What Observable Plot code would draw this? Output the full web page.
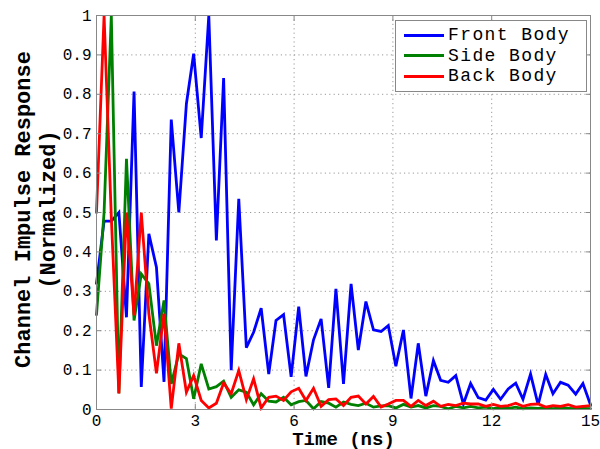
<!DOCTYPE html>
<html><head><meta charset="utf-8">
<script src="https://cdn.jsdelivr.net/npm/d3@7"></script>
<script src="https://cdn.jsdelivr.net/npm/@observablehq/plot@0.6"></script>
<style>
body{margin:0;background:#fff;}
#wrap{position:relative;width:600px;height:449px;}
#legend{position:absolute;left:395px;top:20px;width:192px;height:72px;border:1px solid #888;background:#fff;box-sizing:border-box;font-family:"Liberation Mono",monospace;font-size:18px;letter-spacing:1.4px;line-height:20px;color:#000;padding-top:4px;}
#legend .row{display:flex;align-items:center;height:20.5px;}
#legend .sw{width:40px;height:3px;margin-left:8px;margin-right:4px;}
#legend .lab{display:inline-block;height:20px;line-height:20px;}
</style>
</head><body><div id="wrap"><div id="chart"></div><div id="legend"></div></div>
<script>
const time = [0,0.23,0.45,0.68,0.91,1.14,1.36,1.59,1.82,2.05,2.27,2.5,2.73,2.95,3.18,3.41,3.64,3.86,4.09,4.32,4.55,4.77,5,5.23,5.45,5.68,5.91,6.14,6.36,6.59,6.82,7.05,7.27,7.5,7.73,7.95,8.18,8.41,8.64,8.86,9.09,9.32,9.55,9.77,10,10.23,10.45,10.68,10.91,11.14,11.36,11.59,11.82,12.05,12.27,12.5,12.73,12.95,13.18,13.41,13.64,13.86,14.09,14.32,14.55,14.77,15];
const frontBody = [0.32,0.478,0.478,0.50,0.234,0.807,0.057,0.446,0.361,0.07,0.736,0.50,0.776,0.903,0.689,1.0,0.429,0.841,0.10,0.535,0.157,0.196,0.257,0.09,0.226,0.241,0.083,0.261,0.084,0.177,0.23,0.055,0.306,0.065,0.319,0.151,0.274,0.202,0.198,0.213,0.11,0.202,0.028,0.168,0.034,0.124,0.074,0.069,0.086,0.014,0.066,0.03,0.024,0.051,0.026,0.052,0.067,0.026,0.09,0.012,0.089,0.04,0.069,0.062,0.039,0.066,0.012];
const sideBody = [0.241,0.5,1.0,0.041,0.636,0.226,0.344,0.319,0.162,0.277,0.065,0.141,0.129,0.027,0.116,0.052,0.058,0.072,0.031,0.05,0.044,0.012,0.04,0.021,0.019,0.031,0.012,0.02,0.023,0.002,0.02,0.016,0.006,0.019,0.013,0.01,0.016,0.006,0.009,0.01,0.004,0.013,0.006,0.01,0.004,0.01,0.008,0.002,0.008,0.004,0.008,0.004,0.006,0.002,0.005,0.003,0.006,0.002,0.004,0.003,0.005,0.002,0.004,0.003,0.002,0.003,0.002];
const backBody = [0.50,1.0,0.488,0.041,0.50,0.239,0.50,0.243,0.092,0.243,0.002,0.168,0.044,0.086,0.023,0.004,0.016,0.067,0.04,0.099,0.025,0.078,0.004,0.031,0.034,0.023,0.045,0.054,0.023,0.054,0.008,0.025,0.027,0.01,0.031,0.034,0.014,0.033,0.006,0.014,0.023,0.023,0.008,0.023,0.01,0.021,0.008,0.013,0.01,0.016,0.014,0.014,0.008,0.013,0.008,0.01,0.016,0.008,0.013,0.014,0.006,0.01,0.008,0.012,0.006,0.008,0.01];
const seriesNames = ["Front Body","Side Body","Back Body"];
const seriesColors = ["#0000ff","#008000","#ff0000"];
const xTicks = [0,3,6,9,12,15];
const yTicks = [0,0.1,0.2,0.3,0.4,0.5,0.6,0.7,0.8,0.9,1];
const yTickLabels = ["0","0.1","0.2","0.3","0.4","0.5","0.6","0.7","0.8","0.9","1"];
const xTitle = "Time (ns)";
const yTitle = "Channel Impulse Response\n(Normalized)";

const seriesValues = [frontBody, sideBody, backBody];
const data = seriesNames.flatMap((name, s) => time.map((t, i) => ({series: name, time: t, value: seriesValues[s][i]})));
const font = "Liberation Mono, Courier New, monospace";

const chart = Plot.plot({
  width: 600, height: 449,
  marginLeft: 96, marginRight: 10, marginTop: 15, marginBottom: 40,
  style: {fontFamily: font, background: "#fff", color: "#000"},
  x: {domain: [0, 15]},
  y: {domain: [0, 1]},
  color: {domain: seriesNames, range: seriesColors},
  marks: [
    Plot.gridX(xTicks, {stroke: "#999", strokeOpacity: 1, strokeDasharray: "1.2,3.2"}),
    Plot.gridY(yTicks, {stroke: "#999", strokeOpacity: 1, strokeDasharray: "1.2,3.2"}),
    Plot.line(data, {x: "time", y: "value", z: "series", stroke: "series", strokeWidth: 2.8, strokeLinejoin: "miter", strokeMiterlimit: 4}),
    Plot.frame({stroke: "#888"}),
    Plot.axisX(xTicks, {anchor: "bottom", tickSize: -5, tickPadding: 10, fontSize: 16, stroke: "#888", label: null}),
    Plot.axisX(xTicks, {anchor: "top", tickSize: -5, tickFormat: () => "", stroke: "#888", label: null}),
    Plot.axisY(yTicks, {anchor: "left", tickSize: -5, tickPadding: 10, fontSize: 16, stroke: "#888", label: null, tickFormat: (d, i) => yTickLabels[i]}),
    Plot.axisY(yTicks, {anchor: "right", tickSize: -5, tickFormat: () => "", stroke: "#888", label: null}),
    Plot.text([xTitle], {frameAnchor: "bottom", dy: 35, fontSize: 19, fontWeight: "bold", fill: "#000"}),
    Plot.text([yTitle], {frameAnchor: "left", textAnchor: "middle", lineAnchor: "middle", dx: -62, dy: -3, rotate: -90, fontSize: 22, fontWeight: "bold", lineHeight: 1.16, fill: "#000"})
  ]
});
document.getElementById("chart").appendChild(chart);

const legend = document.getElementById("legend");
seriesNames.forEach((name, i) => {
  const row = document.createElement("div");
  row.className = "row";
  const sw = document.createElement("div");
  sw.className = "sw";
  sw.style.background = seriesColors[i];
  const label = document.createElement("span");
  label.className = "lab";
  label.textContent = name;
  row.appendChild(sw); row.appendChild(label);
  legend.appendChild(row);
});
</script>
</body></html>
